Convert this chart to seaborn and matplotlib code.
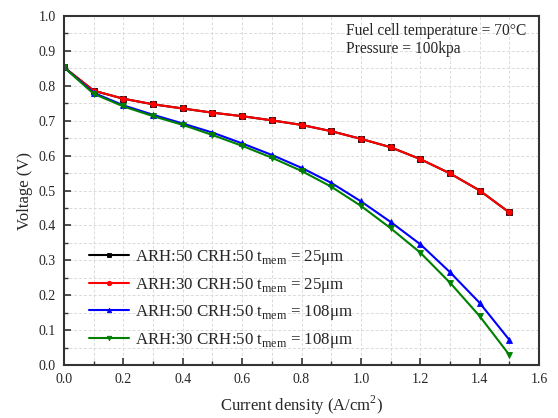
import numpy as np
import pandas as pd
import seaborn as sns
import matplotlib
matplotlib.use("Agg")
import matplotlib.pyplot as plt
import matplotlib.ticker as ticker


current = [0.0, 0.1, 0.2, 0.3, 0.4, 0.5, 0.6, 0.7, 0.8, 0.9, 1.0, 1.1, 1.2, 1.3, 1.4, 1.5]

v_arh50_25 = [0.853, 0.786, 0.763, 0.747, 0.735, 0.723, 0.713, 0.701, 0.688, 0.670, 0.648, 0.624, 0.590, 0.549, 0.500, 0.437]
v_arh30_25 = [0.853, 0.786, 0.763, 0.747, 0.735, 0.723, 0.713, 0.701, 0.688, 0.670, 0.648, 0.624, 0.590, 0.549, 0.500, 0.437]
v_arh50_108 = [0.853, 0.780, 0.744, 0.717, 0.692, 0.666, 0.635, 0.602, 0.565, 0.522, 0.469, 0.410, 0.346, 0.266, 0.178, 0.072]
v_arh30_108 = [0.853, 0.777, 0.741, 0.713, 0.688, 0.659, 0.628, 0.594, 0.556, 0.511, 0.456, 0.392, 0.322, 0.236, 0.140, 0.029]

labels = [
    r"ARH:50 CRH:50 t$_{\mathregular{mem}}$ = 25μm",
    r"ARH:30 CRH:50 t$_{\mathregular{mem}}$ = 25μm",
    r"ARH:50 CRH:50 t$_{\mathregular{mem}}$ = 108μm",
    r"ARH:30 CRH:50 t$_{\mathregular{mem}}$ = 108μm",
]
series = [v_arh50_25, v_arh30_25, v_arh50_108, v_arh30_108]
colors = ["black", "#ff0000", "#0000ff", "#008000"]
markers = ["s", "o", "^", "v"]

sns.set_style("ticks")
plt.rcParams["font.family"] = ["Liberation Serif", "DejaVu Serif"]
plt.rcParams["mathtext.fontset"] = "custom"
plt.rcParams["mathtext.rm"] = "Liberation Serif"
plt.rcParams["xtick.direction"] = "in"
plt.rcParams["ytick.direction"] = "in"

fig, ax = plt.subplots(figsize=(5.58, 4.18), dpi=100)
fig.subplots_adjust(left=0.1147, right=0.966, top=0.9617, bottom=0.1268)

for lab, vals, col, mk in zip(labels, series, colors, markers):
    df = pd.DataFrame({"current": current, "voltage": vals})
    sns.lineplot(data=df, x="current", y="voltage", ax=ax, color=col, marker=mk,
                 markersize=4, markeredgewidth=0.6, markeredgecolor=col,
                 linewidth=1.5, label=lab)

ax.set_xlim(0, 1.6)
ax.set_ylim(0, 1.0)
ax.xaxis.set_major_locator(ticker.MultipleLocator(0.2))
ax.xaxis.set_minor_locator(ticker.MultipleLocator(0.1))
ax.yaxis.set_major_locator(ticker.MultipleLocator(0.1))
ax.yaxis.set_minor_locator(ticker.MultipleLocator(0.05))
ax.xaxis.set_major_formatter(ticker.FormatStrFormatter("%.1f"))
ax.yaxis.set_major_formatter(ticker.FormatStrFormatter("%.1f"))

ax.grid(which="both", linestyle=(0, (3, 2)), color="#dadada", linewidth=0.7)
ax.set_axisbelow(True)

for sp in ax.spines.values():
    sp.set_linewidth(1.5)
    sp.set_color("#333333")
    sp.set_visible(True)

ax.tick_params(which="major", length=5, width=1.2, labelsize=10, pad=6, color="#333333")
ax.tick_params(which="minor", length=3, width=1.0, color="#333333")
ax.tick_params(top=False, right=False, which="both")

ax.set_xlabel("Current density (A/cm$^2$)", fontsize=12, labelpad=5)
ax.set_ylabel("Voltage (V)", fontsize=12, labelpad=4)

ax.text(0.593, 0.945, "Fuel cell temperature = 70°C", transform=ax.transAxes, fontsize=11.2)
ax.text(0.593, 0.895, "Pressure = 100kpa", transform=ax.transAxes, fontsize=11.2)

leg = ax.legend(loc="lower left", bbox_to_anchor=(0.02, 0.0), frameon=False, fontsize=12.2,
                handlelength=2.4, handletextpad=0.3, labelspacing=0.5, markerscale=0.8)

fig.savefig("out.png", dpi=100)
